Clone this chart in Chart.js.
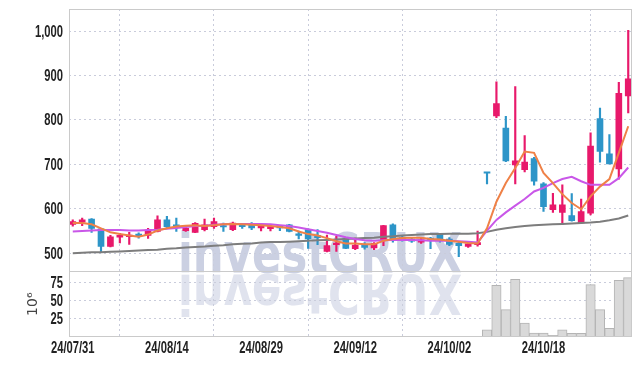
<!DOCTYPE html>
<html>
<head>
<meta charset="utf-8">
<script src="https://cdn.jsdelivr.net/npm/chart.js@4.4.1/dist/chart.umd.min.js"></script>
<style>
  html, body { margin: 0; padding: 0; background: #fff; }
</style>
</head>
<body>
<canvas id="stockChart" width="642" height="366"></canvas>
<script>
// trading days, 24/07/31 .. 24/10/31
const dates = ['24/07/31','24/08/01','24/08/02','24/08/05','24/08/06','24/08/07','24/08/08','24/08/09','24/08/12','24/08/13',
  '24/08/14','24/08/16','24/08/19','24/08/20','24/08/21','24/08/22','24/08/23','24/08/26','24/08/27','24/08/28',
  '24/08/29','24/08/30','24/09/02','24/09/03','24/09/04','24/09/05','24/09/06','24/09/09','24/09/10','24/09/11',
  '24/09/12','24/09/13','24/09/19','24/09/20','24/09/23','24/09/24','24/09/25','24/09/26','24/09/27','24/09/30',
  '24/10/02','24/10/04','24/10/07','24/10/08','24/10/10','24/10/11','24/10/14','24/10/15','24/10/16','24/10/17',
  '24/10/18','24/10/21','24/10/22','24/10/23','24/10/24','24/10/25','24/10/28','24/10/29','24/10/30','24/10/31'];

const openP  = [565,570,577,555,515,536,537,543,540,549, 575,564,551,547,553,560,562,553,565,567,
                557,555,560,564,543,553,540,504,519,534, 510,519,512,528,564,535,532,525,534,543,
                532,523,515,519,681,809,782,699,688,713, 656,598,592,585,568,590,803,724,690,854];
const highP  = [575,579,578,556,540,545,547,546,556,584, 583,579,558,569,577,579,568,570,567,569,
                566,562,562,565,550,555,553,541,538,535, 534,524,524,563,566,538,536,534,536,545,
                535,527,523,550,681,886,808,875,765,716, 659,635,654,634,622,771,827,767,885,1002];
const lowP   = [561,562,547,503,514,523,520,534,533,548, 556,549,549,546,550,556,549,551,556,553,
                550,550,551,548,532,511,519,503,504,510, 508,509,508,517,525,527,524,522,510,525,
                517,492,513,516,656,805,706,656,683,653, 594,592,564,572,567,586,705,701,667,816];
const closeP = [571,575,556,515,537,540,541,539,552,575, 560,559,556,567,564,571,559,568,560,557,
                564,560,557,549,540,532,535,517,523,511, 518,513,522,562,528,530,527,530,529,530,
                520,517,521,524,680,837,708,708,705,662, 605,609,609,573,594,741,729,701,860,893];

// moving averages as drawn (orange / purple / gray)
const maShort = [568,568,565,556,547,543,540,537,542,551, 556,560,562,563,561,563,565,566,565,564,
                 563,561,559,556,549,543,540,534,527,522, 522,520,520,528,532,534,535,535,532,531,
                 528,526,523,522,556,616,658,692,729,726, 681,658,633,613,599,628,650,667,726,786];
const maMid   = [549,550,551,552,552,552,551,551,552,553, 555,557,559,561,562,564,565,566,566,566,
                 566,565,563,561,558,554,550,546,541,536, 532,529,528,529,530,530,530,529,528,528,
                 528,527,526,524,551,575,592,607,622,639, 647,658,667,672,662,654,654,654,669,693];
const maLong  = [500,501,502,502,503,504,505,506,507,508, 510,511,513,514,515,517,518,520,521,522,
                 524,525,525,526,527,528,529,530,531,532, 533,534,535,537,538,540,541,542,543,543,
                 544,544,544,545,548,553,556,559,561,563, 564,565,566,567,568,569,571,574,578,585];

// volume, millions of shares
const volume = [0.3,0.2,0.3,0.4,0.3,0.2,0.2,0.2,0.3,0.4, 0.3,0.2,0.2,0.3,0.2,0.2,0.2,0.2,0.2,0.2,
                0.2,0.2,0.2,0.2,0.2,0.3,0.2,0.3,0.2,0.2, 0.2,0.2,0.2,0.4,0.4,0.2,0.2,0.2,0.2,0.2,
                0.2,0.3,0.2,0.3,9.7,70.8,37.5,79,19,5.5, 5.5,2.4,9.7,5,5,71.8,37.5,12,77.8,81.5];

const priceTicks = [500, 600, 700, 800, 900, 1000];
const volTicks = [25, 50, 75];

const UP = '#e8196b', DOWN = '#2d95c8';
const candleColors = closeP.map((c, i) => c > openP[i] ? UP : DOWN);
const labelFont = 'bold 16px "Liberation Sans"';
const squeeze = 0.7;   // the original uses a condensed face
const gridColor = '#c9ccdb';

// watermark logo with reflection
const watermark = {
    id: 'watermark',
    beforeDraw(chart) {
        const ctx = chart.ctx;
        ctx.save();
        ctx.font = 'bold 55px "DejaVu Sans"';
        const w = ctx.measureText('investCRUX').width;
        ctx.translate(178, 272);
        ctx.scale(284 / w, 1);
        ctx.fillStyle = '#cbd0e2';
        ctx.fillText('investCRUX', 0, 0);
        ctx.translate(0, 3);
        ctx.scale(1, -1);
        ctx.fillStyle = '#e0e3ee';
        ctx.fillText('investCRUX', 0, 0);
        ctx.restore();
    }
};

// solid frame around the two panels
const frame = {
    id: 'frame',
    afterDatasetsDraw(chart) {
        const ctx = chart.ctx;
        const a = chart.chartArea;
        const sep = Math.round(chart.scales.y.bottom) + 0.5;
        ctx.save();
        ctx.strokeStyle = '#cacaca';
        ctx.lineWidth = 1;
        ctx.strokeRect(Math.round(a.left) + 0.5, Math.round(a.top) + 0.5,
            Math.round(a.right - a.left) - 1, Math.round(a.bottom - a.top) - 1);
        ctx.beginPath();
        ctx.moveTo(a.left, sep);
        ctx.lineTo(a.right, sep);
        ctx.stroke();
        ctx.restore();
    }
};

// tick labels drawn narrow
function drawText(ctx, text, x, y, align) {
    ctx.save();
    ctx.translate(x, y);
    ctx.scale(squeeze, 1);
    ctx.textAlign = align;
    ctx.fillText(text, 0, 0);
    ctx.restore();
}

const tickLabels = {
    id: 'tickLabels',
    afterDraw(chart) {
        const ctx = chart.ctx;
        const {x, y, yv} = chart.scales;
        ctx.save();
        ctx.font = labelFont;
        ctx.fillStyle = '#222';
        ctx.textBaseline = 'middle';
        x.ticks.forEach(t => drawText(ctx, dates[t.value], x.getPixelForValue(t.value), x.top + 12, 'center'));
        y.ticks.forEach(t => drawText(ctx, t.value.toLocaleString('en-US'), y.right - 6, y.getPixelForValue(t.value) + 1, 'right'));
        yv.ticks.forEach(t => drawText(ctx, String(t.value), yv.right - 6, yv.getPixelForValue(t.value) + 1, 'right'));
        ctx.restore();
    }
};

function pts(arr) {
    return arr.map((v, i) => ({ x: i, y: v }));
}

function lineSet(arr, color) {
    return {
        type: 'line', data: pts(arr), yAxisID: 'y',
        borderColor: color, borderWidth: 2, pointRadius: 0, tension: 0, order: 0
    };
}

const ctx = document.getElementById('stockChart').getContext('2d');
const myChart = new Chart(ctx, {
    type: 'bar',
    data: {
        datasets: [
            lineSet(maShort, '#ef8147'),
            lineSet(maMid, '#c957e8'),
            lineSet(maLong, '#7d7d7d'),
            {
                data: dates.map((d, i) => ({ x: i, y: [openP[i], closeP[i]] })),
                yAxisID: 'y', backgroundColor: candleColors,
                barThickness: 6, minBarLength: 1.5, grouped: false, order: 1
            },
            {
                data: dates.map((d, i) => ({ x: i, y: [lowP[i], highP[i]] })),
                yAxisID: 'y', backgroundColor: candleColors,
                barThickness: 1.5, grouped: false, order: 2
            },
            {
                data: pts(volume), yAxisID: 'yv',
                backgroundColor: '#d9d9d9', borderColor: '#b4b4b4', borderWidth: 1,
                barPercentage: 1, categoryPercentage: 1, grouped: false, order: 3
            }
        ]
    },
    options: {
        responsive: false,
        animation: false,
        devicePixelRatio: 1,
        layout: { padding: { top: 9, right: 10, left: 0, bottom: 0 } },
        plugins: { legend: { display: false }, tooltip: { enabled: false } },
        scales: {
            x: {
                type: 'linear', min: -0.4, max: 59.4, offset: false,
                afterBuildTicks: s => { s.ticks = dates.map((d, i) => ({ value: i })).filter(t => t.value % 10 === 0); },
                afterFit: s => { s.height = 29; },
                ticks: { display: false },
                grid: { color: gridColor, drawTicks: false },
                border: { display: false, dash: [2, 3] }
            },
            yv: {
                type: 'linear', position: 'left', stack: 'panes', stackWeight: 1,
                min: 0, max: 90,
                afterBuildTicks: s => { s.ticks = volTicks.map(v => ({ value: v })); },
                afterFit: s => { s.width = 69; },
                ticks: { display: false },
                title: {
                    display: true, text: '10\u2076', color: '#444',
                    font: { family: 'DejaVu Sans', size: 14 }, padding: { top: 25, bottom: 0 }
                },
                grid: { color: gridColor, drawTicks: false },
                border: { display: false, dash: [2, 3] }
            },
            y: {
                type: 'linear', position: 'left', stack: 'panes', stackWeight: 4,
                min: 459, max: 1050,
                afterBuildTicks: s => { s.ticks = priceTicks.map(v => ({ value: v })); },
                afterFit: s => { s.width = 69; },
                ticks: { display: false },
                grid: { color: gridColor, drawTicks: false },
                border: { display: false, dash: [2, 3] }
            }
        }
    },
    plugins: [watermark, frame, tickLabels]
});
</script>
</body>
</html>
